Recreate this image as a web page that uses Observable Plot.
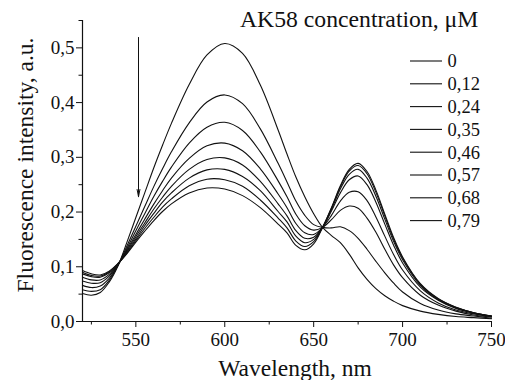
<!DOCTYPE html>
<html>
<head>
<meta charset="utf-8">
<script src="https://cdn.jsdelivr.net/npm/d3@7"></script>
<script src="https://cdn.jsdelivr.net/npm/@observablehq/plot@0.6"></script>
</head>
<body style="margin:0;background:#fff">
<div id="chart"></div>
<script>
// Wavelength grid (nm)
const wavelengths = [520,525,530,535,540,545,550,555,560,565,570,580,590,600,610,620,630,635,640,645,650,655,660,665,670,675,680,685,690,695,700,710,720,730,740,750];

// Fluorescence intensity for each AK58 concentration (µM)
const c0  = [0.051,0.048,0.053,0.072,0.102,0.145,0.190,0.235,0.280,0.322,0.362,0.433,0.487,0.508,0.490,0.432,0.350,0.306,0.264,0.228,0.197,0.172,0.157,0.144,0.123,0.098,0.077,0.060,0.047,0.037,0.029,0.019,0.013,0.009,0.007,0.005];
const c12 = [0.058,0.055,0.058,0.075,0.103,0.138,0.174,0.210,0.246,0.279,0.310,0.363,0.401,0.414,0.398,0.352,0.289,0.255,0.220,0.194,0.177,0.172,0.171,0.173,0.166,0.152,0.132,0.110,0.089,0.070,0.054,0.033,0.021,0.014,0.010,0.006];
const c24 = [0.066,0.062,0.065,0.079,0.103,0.134,0.166,0.197,0.228,0.256,0.282,0.326,0.355,0.364,0.349,0.310,0.257,0.228,0.196,0.175,0.167,0.172,0.186,0.203,0.211,0.207,0.189,0.163,0.132,0.103,0.080,0.048,0.030,0.019,0.012,0.008];
const c35 = [0.074,0.070,0.071,0.083,0.104,0.131,0.159,0.187,0.214,0.239,0.262,0.298,0.321,0.326,0.312,0.279,0.233,0.208,0.179,0.162,0.159,0.172,0.194,0.220,0.236,0.237,0.221,0.191,0.156,0.122,0.094,0.056,0.034,0.021,0.014,0.009];
const c46 = [0.081,0.076,0.076,0.086,0.105,0.129,0.155,0.180,0.205,0.227,0.247,0.278,0.296,0.299,0.286,0.256,0.215,0.193,0.166,0.152,0.154,0.172,0.202,0.235,0.259,0.266,0.250,0.218,0.178,0.139,0.107,0.063,0.039,0.024,0.015,0.009];
const c57 = [0.087,0.082,0.081,0.089,0.105,0.127,0.151,0.175,0.197,0.218,0.235,0.262,0.277,0.278,0.265,0.239,0.201,0.182,0.156,0.144,0.150,0.172,0.205,0.242,0.269,0.278,0.262,0.229,0.187,0.146,0.113,0.066,0.040,0.025,0.016,0.010];
const c68 = [0.090,0.084,0.083,0.091,0.106,0.125,0.148,0.170,0.190,0.209,0.224,0.248,0.260,0.259,0.247,0.222,0.189,0.171,0.147,0.137,0.146,0.172,0.207,0.246,0.275,0.285,0.270,0.236,0.193,0.150,0.116,0.068,0.041,0.026,0.016,0.010];
const c79 = [0.093,0.087,0.085,0.092,0.106,0.124,0.145,0.165,0.184,0.201,0.215,0.235,0.244,0.242,0.230,0.208,0.178,0.162,0.139,0.131,0.142,0.172,0.208,0.248,0.278,0.289,0.274,0.240,0.196,0.153,0.118,0.069,0.042,0.026,0.016,0.010];

const concentrations = ["0","0,12","0,24","0,35","0,46","0,57","0,68","0,79"];
const seriesValues = [c0,c12,c24,c35,c46,c57,c68,c79];

// Axis ticks
const xTicks = [550,600,650,700,750];
const xMinorTicks = [525,575,625,675,725];
const yTicks = [0,0.1,0.2,0.3,0.4,0.5];
const yMinorTicks = [0.05,0.15,0.25,0.35,0.45,0.55];

// Arrow annotation (wavelength, intensity from -> to)
const arrowX = [551.5];
const arrowY = [0.519, 0.228];

const xTitle = "Wavelength, nm";
const yTitle = "Fluorescence intensity, a.u.";
const legendTitle = "AK58 concentration, \u03BCM";

const table = [];
seriesValues.forEach((vals, i) => {
  vals.forEach((v, j) => table.push({wl: wavelengths[j], v, conc: concentrations[i]}));
});

const fmt = d => d.toFixed(1).replace(".", ",");
const ink = "#111";
const font = "Liberation Serif";

const plot = Plot.plot({
  width: 505,
  height: 380,
  marginLeft: 82,
  marginRight: 14,
  marginTop: 20,
  marginBottom: 59,
  x: {domain: [520, 750]},
  y: {domain: [0, 0.55]},
  style: {fontFamily: font, fontSize: "19px"},
  marks: [
    Plot.axisX(xTicks, {tickSize: 6, tickPadding: 5, tickFormat: d => String(d), label: null, fontFamily: font, fontSize: 19, stroke: ink, fill: ink}),
    Plot.axisX(xMinorTicks, {tickSize: 3.5, tickFormat: () => "", label: null, stroke: ink}),
    Plot.axisY(yTicks, {tickSize: 6, tickPadding: 2, tickFormat: fmt, label: null, fontFamily: font, fontSize: 19, stroke: ink, fill: ink}),
    Plot.axisY(yMinorTicks, {tickSize: 3.5, tickFormat: () => "", label: null, stroke: ink}),
    Plot.ruleX([520], {stroke: ink, strokeWidth: 1.2}),
    Plot.ruleY([0], {stroke: ink, strokeWidth: 1.2}),
    Plot.line(table, {x: "wl", y: "v", z: "conc", stroke: ink, strokeWidth: 1.1, curve: "catmull-rom"}),
    Plot.arrow([{x: arrowX[0], y1: arrowY[0], y2: arrowY[1]}], {x1: "x", x2: "x", y1: "y1", y2: "y2", stroke: ink, strokeWidth: 1, headLength: 11, headAngle: 22})
  ]
});

document.getElementById("chart").appendChild(plot);

const svg = d3.select(plot);

// Axis titles
svg.append("text")
  .attr("x", 295).attr("y", 376)
  .attr("text-anchor", "middle")
  .attr("font-family", font).attr("font-size", 23.5).attr("fill", ink)
  .text(xTitle);

svg.append("text")
  .attr("transform", "translate(33,165) rotate(-90)")
  .attr("text-anchor", "middle")
  .attr("font-family", font).attr("font-size", 23.5).attr("fill", ink)
  .text(yTitle);

// Legend
svg.append("text")
  .attr("x", 240).attr("y", 27)
  .attr("text-anchor", "start")
  .attr("font-family", font).attr("font-size", 23.7).attr("fill", ink)
  .text(legendTitle);

const lg = svg.append("g");
concentrations.forEach((c, i) => {
  const yy = 61 + i * 22.8;
  lg.append("line").attr("x1", 410).attr("x2", 442).attr("y1", yy).attr("y2", yy)
    .attr("stroke", ink).attr("stroke-width", 1.1);
  lg.append("text").attr("x", 447.5).attr("y", yy + 6.3)
    .attr("text-anchor", "start")
    .attr("font-family", font).attr("font-size", 18.5).attr("fill", ink)
    .text(c);
});
</script>
</body>
</html>
